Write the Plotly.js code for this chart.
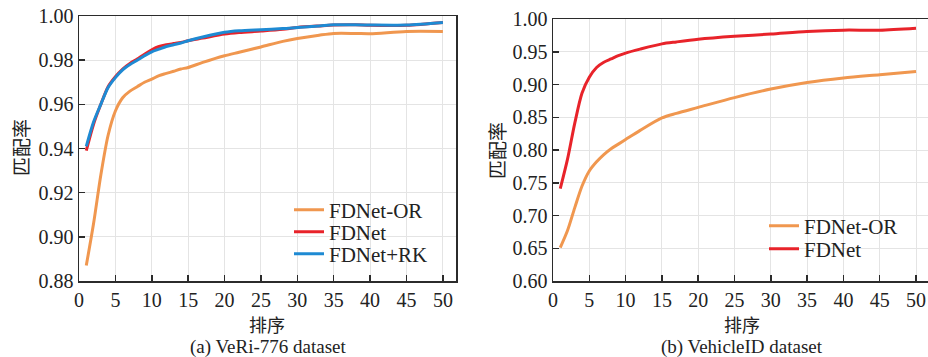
<!DOCTYPE html>
<html>
<head>
<meta charset="utf-8">
<script src="https://cdn.plot.ly/plotly-3.0.1.min.js"></script>
<style>html,body{margin:0;padding:0;background:#fff;}#chart{width:928px;height:357px;}</style>
</head>
<body>
<div id="chart"></div>
<script>
// ---- VeRi-776 (a) ----
const veriRanks = [1,2,3,4,5,6,7,8,9,10,11,12,13,14,15,17,20,22,25,28,30,33,35,38,40,45,50];
const veriFDNetOR = [0.887,0.906,0.928,0.946,0.957,0.963,0.966,0.968,0.970,0.9714,0.973,0.974,0.975,0.976,0.9767,0.979,0.982,0.9836,0.986,0.9885,0.9898,0.9913,0.9921,0.9921,0.992,0.993,0.993];
const veriFDNet = [0.939,0.951,0.960,0.968,0.9725,0.976,0.9785,0.9805,0.9827,0.9847,0.9862,0.987,0.9875,0.988,0.9888,0.990,0.9918,0.9925,0.9932,0.994,0.9948,0.9955,0.9959,0.996,0.9958,0.9958,0.9971];
const veriFDNetRK = [0.941,0.952,0.960,0.9676,0.9721,0.9756,0.978,0.980,0.982,0.9838,0.985,0.9862,0.987,0.9878,0.9888,0.9905,0.9926,0.9933,0.9938,0.9943,0.9948,0.9955,0.996,0.996,0.9959,0.9959,0.9971];

// ---- VehicleID (b) ----
const vidRanks = [1,2,3,4,5,6,7,8,9,10,12,15,17,20,25,30,35,40,45,50];
const vidFDNetOR = [0.651,0.677,0.712,0.745,0.768,0.782,0.793,0.802,0.809,0.816,0.830,0.849,0.856,0.865,0.880,0.893,0.903,0.910,0.915,0.920];
const vidFDNet = [0.741,0.786,0.841,0.887,0.911,0.926,0.934,0.939,0.944,0.948,0.954,0.962,0.965,0.969,0.9735,0.977,0.981,0.983,0.983,0.986];

const seriesNames = ["FDNet-OR","FDNet","FDNet+RK"];
const xTickVals = [0,5,10,15,20,25,30,35,40,45,50];
const yTicksA = [0.88,0.90,0.92,0.94,0.96,0.98,1.00];
const yTicksB = [0.60,0.65,0.70,0.75,0.80,0.85,0.90,0.95,1.00];
const axisTitleX = "排序";
const axisTitleY = "匹配率";
const captions = ["(a) VeRi-776 dataset","(b) VehicleID dataset"];

const W = 928, H = 357;
const px = v => v / W;
const py = v => 1 - v / H;

const C_OR = "#F0974F", C_NET = "#E8232A", C_RK = "#1E8AD3";
const LW = 3;
const serif = "'Liberation Serif', 'Times New Roman', serif";
const cjk = "'Noto Sans CJK SC', sans-serif";

function line(x, y, name, color, xa, ya, leg) {
  return {x: x, y: y, name: name, type: "scatter", mode: "lines",
    line: {color: color, width: LW, shape: "spline", smoothing: 0.8},
    xaxis: xa, yaxis: ya, legend: leg, showlegend: true};
}

const data = [
  line(veriRanks, veriFDNetOR, seriesNames[0], C_OR, "x", "y", "legend"),
  line(veriRanks, veriFDNet, seriesNames[1], C_NET, "x", "y", "legend2"),
  line(veriRanks, veriFDNetRK, seriesNames[2], C_RK, "x", "y", "legend3"),
  line(vidRanks, vidFDNetOR, seriesNames[0], C_OR, "x2", "y2", "legend4"),
  line(vidRanks, vidFDNet, seriesNames[1], C_NET, "x2", "y2", "legend5")
];

const axBase = {
  showline: true, linecolor: "#2b2b2b", linewidth: 1.5,
  ticks: "inside", ticklen: 6, tickwidth: 1.5, tickcolor: "#2b2b2b",
  showgrid: true, gridcolor: "#e4e4e4", gridwidth: 1,
  zeroline: false,
  tickfont: {family: serif, size: 20, color: "#222"}
};

function legendAt(xp, yc) {
  return {x: px(xp), y: py(yc), xanchor: "left", yanchor: "middle",
    bgcolor: "rgba(255,255,255,0)", borderwidth: 0,
    font: {family: serif, size: 21, color: "#222"},
    itemwidth: 30, tracegroupgap: 0};
}

function note(text, x, y, font, angle) {
  return {text: text, x: px(x), y: py(y), xref: "paper", yref: "paper", showarrow: false,
    xanchor: "center", yanchor: "middle", textangle: angle || 0, font: font};
}
const cjkFont = {family: cjk, size: 18, color: "#222"};
const cjkFontY = {family: cjk, size: 19, color: "#222"};
const capFont = {family: serif, size: 19, color: "#222"};

const layout = {
  width: W, height: H,
  font: {family: serif, size: 20, color: "#222"},
  margin: {l: 0, r: 0, t: 0, b: 0},
  paper_bgcolor: "#fff", plot_bgcolor: "#fff",
  xaxis: Object.assign({}, axBase, {domain: [px(79), px(456)], range: [0, 51.8],
    tickvals: xTickVals, mirror: true, anchor: "y"}),
  yaxis: Object.assign({}, axBase, {domain: [py(281), py(16)], range: [0.88, 1.0],
    tickvals: yTicksA, tickformat: ".2f", mirror: true, anchor: "x"}),
  xaxis2: Object.assign({}, axBase, {domain: [px(553), 1], range: [0, 51.65],
    tickvals: xTickVals, mirror: true, anchor: "y2"}),
  yaxis2: Object.assign({}, axBase, {domain: [py(281), py(19)], range: [0.60, 1.0],
    tickvals: yTicksB, tickformat: ".2f", mirror: false, anchor: "x2"}),
  legend: legendAt(289, 210),
  legend2: legendAt(289, 232),
  legend3: legendAt(289, 254),
  legend4: legendAt(764, 226),
  legend5: legendAt(764, 249),
  shapes: [
    {type: "rect", xref: "paper", yref: "paper", layer: "between",
      x0: px(293), x1: px(427), y0: py(264), y1: py(200),
      fillcolor: "#fff", line: {width: 0}},
    {type: "rect", xref: "paper", yref: "paper", layer: "between",
      x0: px(768), x1: px(900), y0: py(259), y1: py(216),
      fillcolor: "#fff", line: {width: 0}}
  ],
  annotations: [
    note(axisTitleY, 20, 148, cjkFontY, -90),
    note(axisTitleX, 267, 324, cjkFont),
    note(captions[0], 268, 347, capFont),
    note(axisTitleY, 496, 150, cjkFontY, -90),
    note(axisTitleX, 742, 324, cjkFont),
    note(captions[1], 742, 347, capFont)
  ]
};

Plotly.newPlot("chart", data, layout, {displayModeBar: false, staticPlot: true});
</script>
</body>
</html>
